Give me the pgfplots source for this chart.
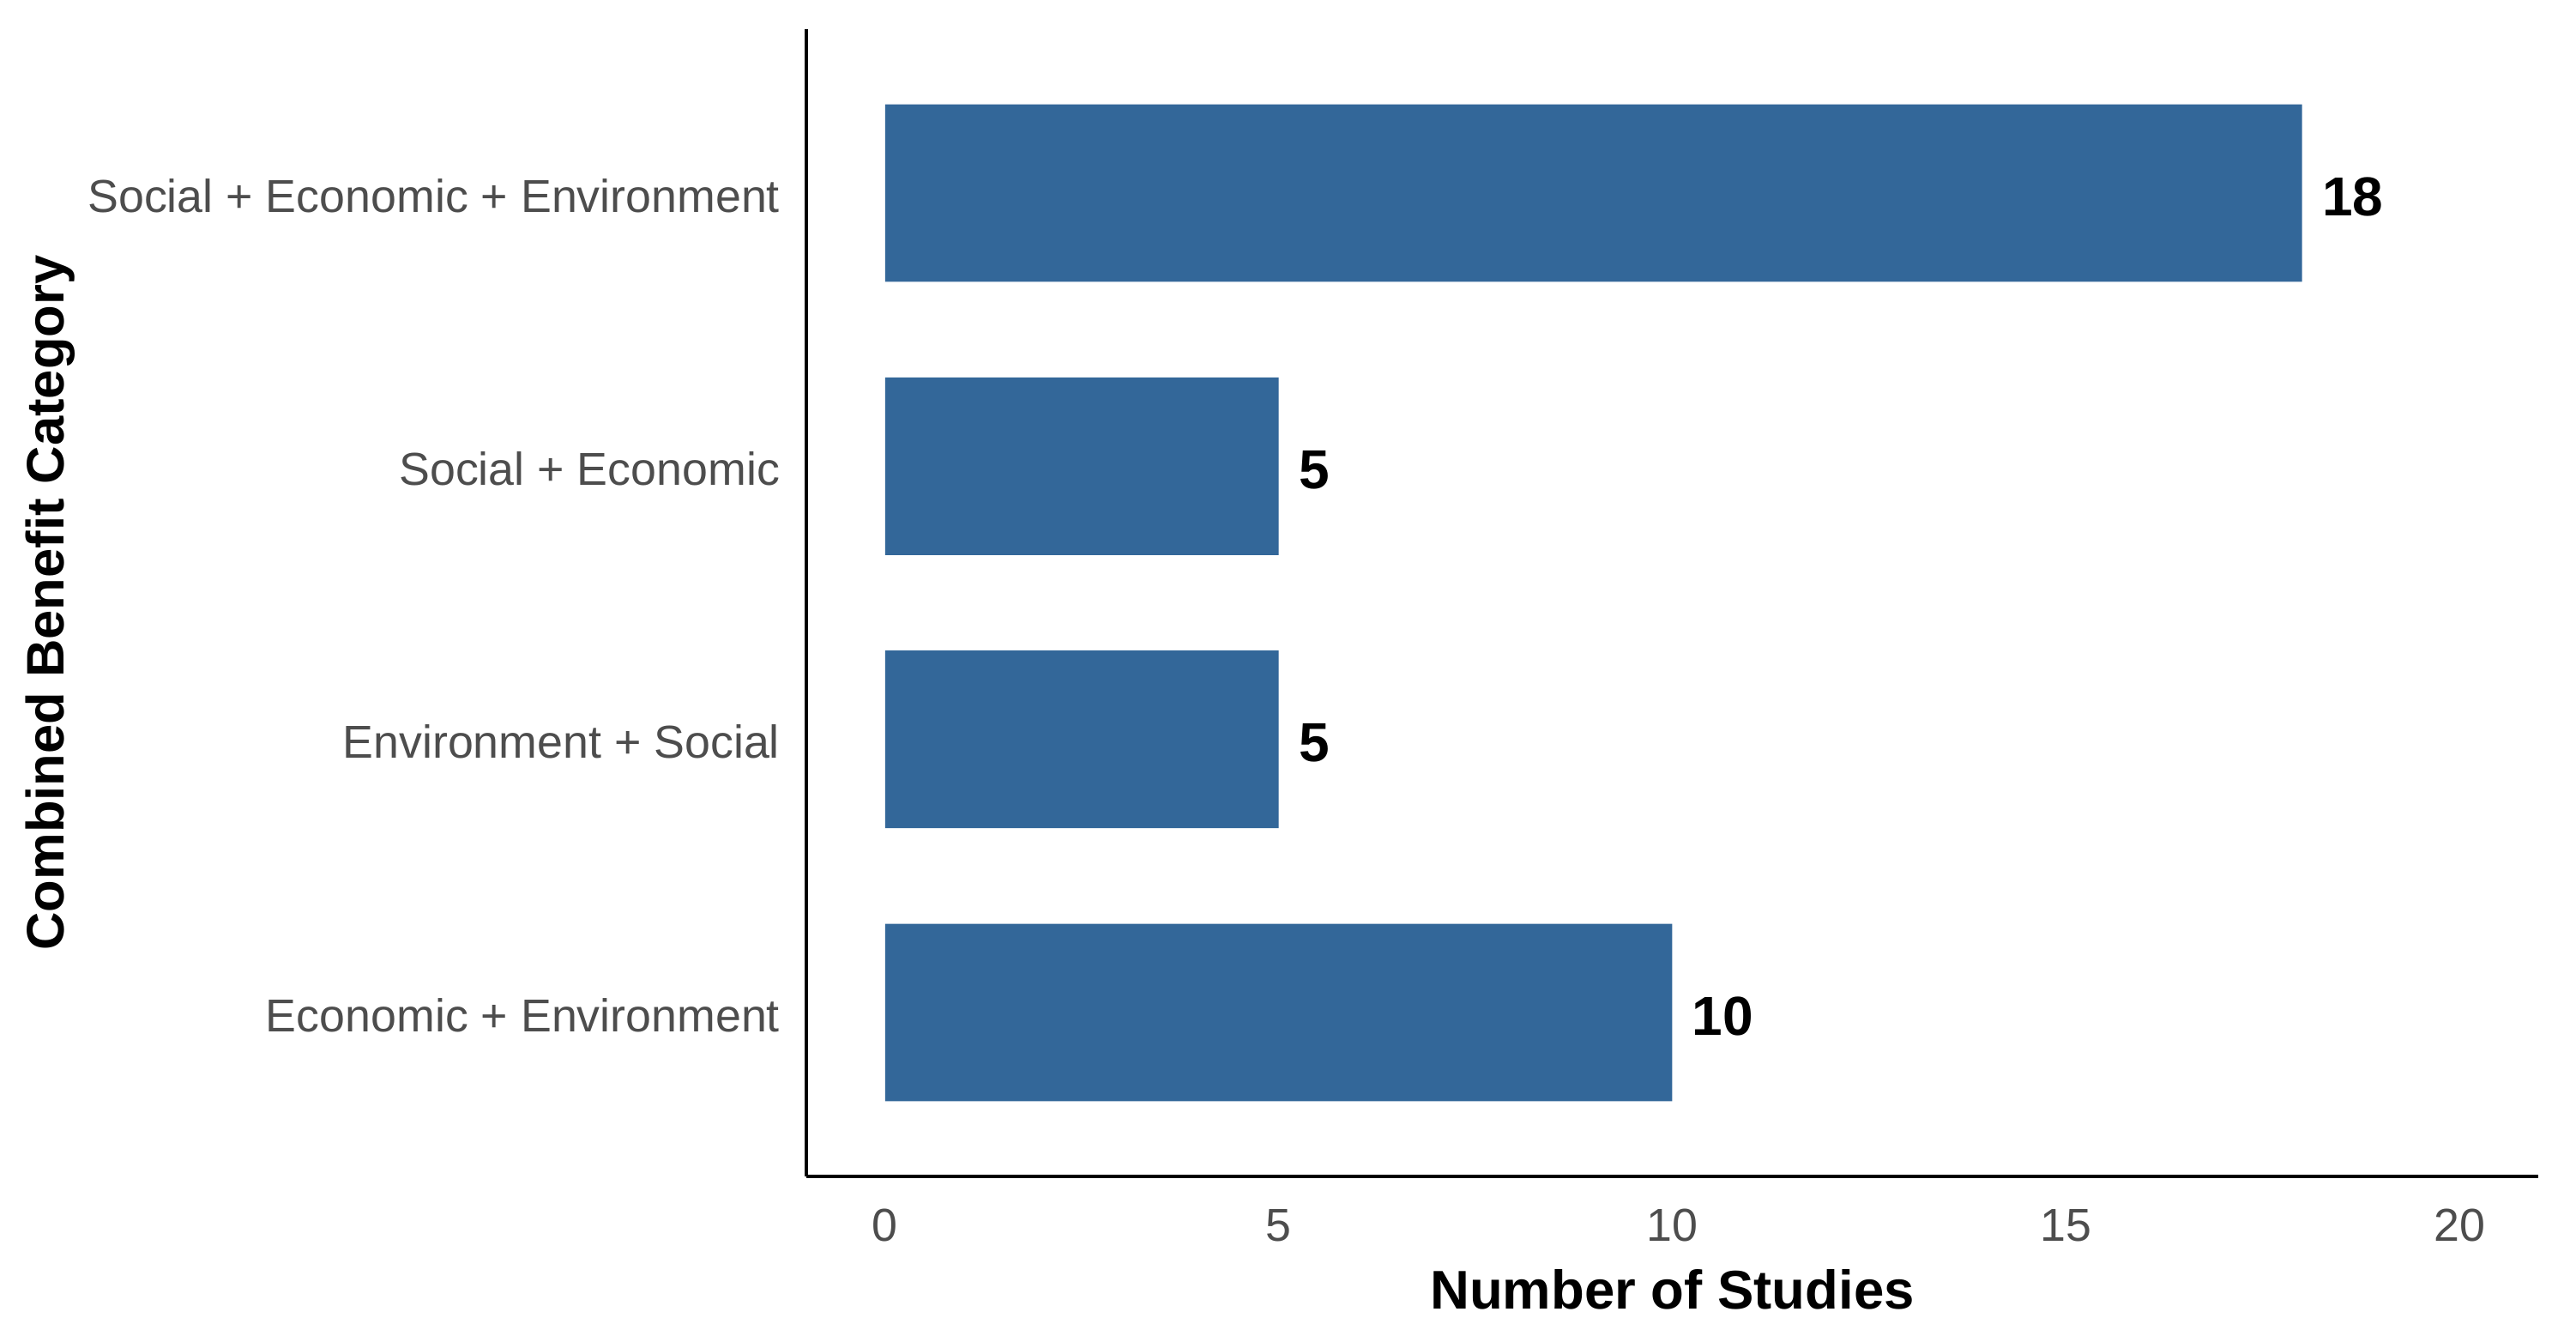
\documentclass[border=0pt]{standalone}
\usepackage{fontspec}
\setmainfont{Liberation Sans}
\usepackage{pgfplots}
\pgfplotsset{compat=1.18}
\definecolor{barblue}{RGB}{51,103,153}
\definecolor{ticktext}{RGB}{77,77,77}
\begin{document}
\begin{tikzpicture}
\path[use as bounding box] (-188pt,-34.2pt) rectangle (412.6pt,274.2pt);
\begin{axis}[
 at={(0,0)}, anchor=south west,
 scale only axis, width=403.8pt, height=267.4pt,
 xbar, bar width=0.65, bar shift=0pt,
 xmin=-1, xmax=21, ymin=0.4, ymax=4.6,
 axis x line*=bottom, axis y line*=left,
 axis line style={line width=0.9pt, black, -},
 xtick={0,5,10,15,20}, ytick={1,2,3,4},
 yticklabels={Economic + Environment, Environment + Social, Social + Economic, Social + Economic + Environment},
 major tick length=0pt,
 tick style={draw=none},
 /pgf/number format/assume math mode=true,
 ticklabel style={font=\fontsize{10.75}{12}\selectfont, text=ticktext},
 xticklabel style={anchor=base, yshift=-15pt, inner sep=0pt},
 yticklabel style={anchor=east, xshift=-6pt, yshift=-0.6pt, inner sep=0pt},
 xlabel={Number of Studies}, ylabel={Combined Benefit Category},
 xlabel style={font=\fontsize{12.7}{14}\selectfont\bfseries, at={(axis description cs:0.5,-0.1159)}, anchor=base, inner sep=0pt},
 ylabel style={font=\fontsize{12.3}{14}\selectfont\bfseries, at={(axis description cs:-0.4512,0.5)}, anchor=north, inner sep=0pt},
 nodes near coords, nodes near coords style={font=\fontsize{12.8}{14}\selectfont\bfseries, anchor=west, xshift=4.5pt, yshift=-0.8pt, inner sep=0pt, text=black},
 clip=false,
]
\addplot[fill=barblue, draw=none] coordinates {(10,1) (5,2) (5,3) (18,4)};
\end{axis}
\end{tikzpicture}
\end{document}
